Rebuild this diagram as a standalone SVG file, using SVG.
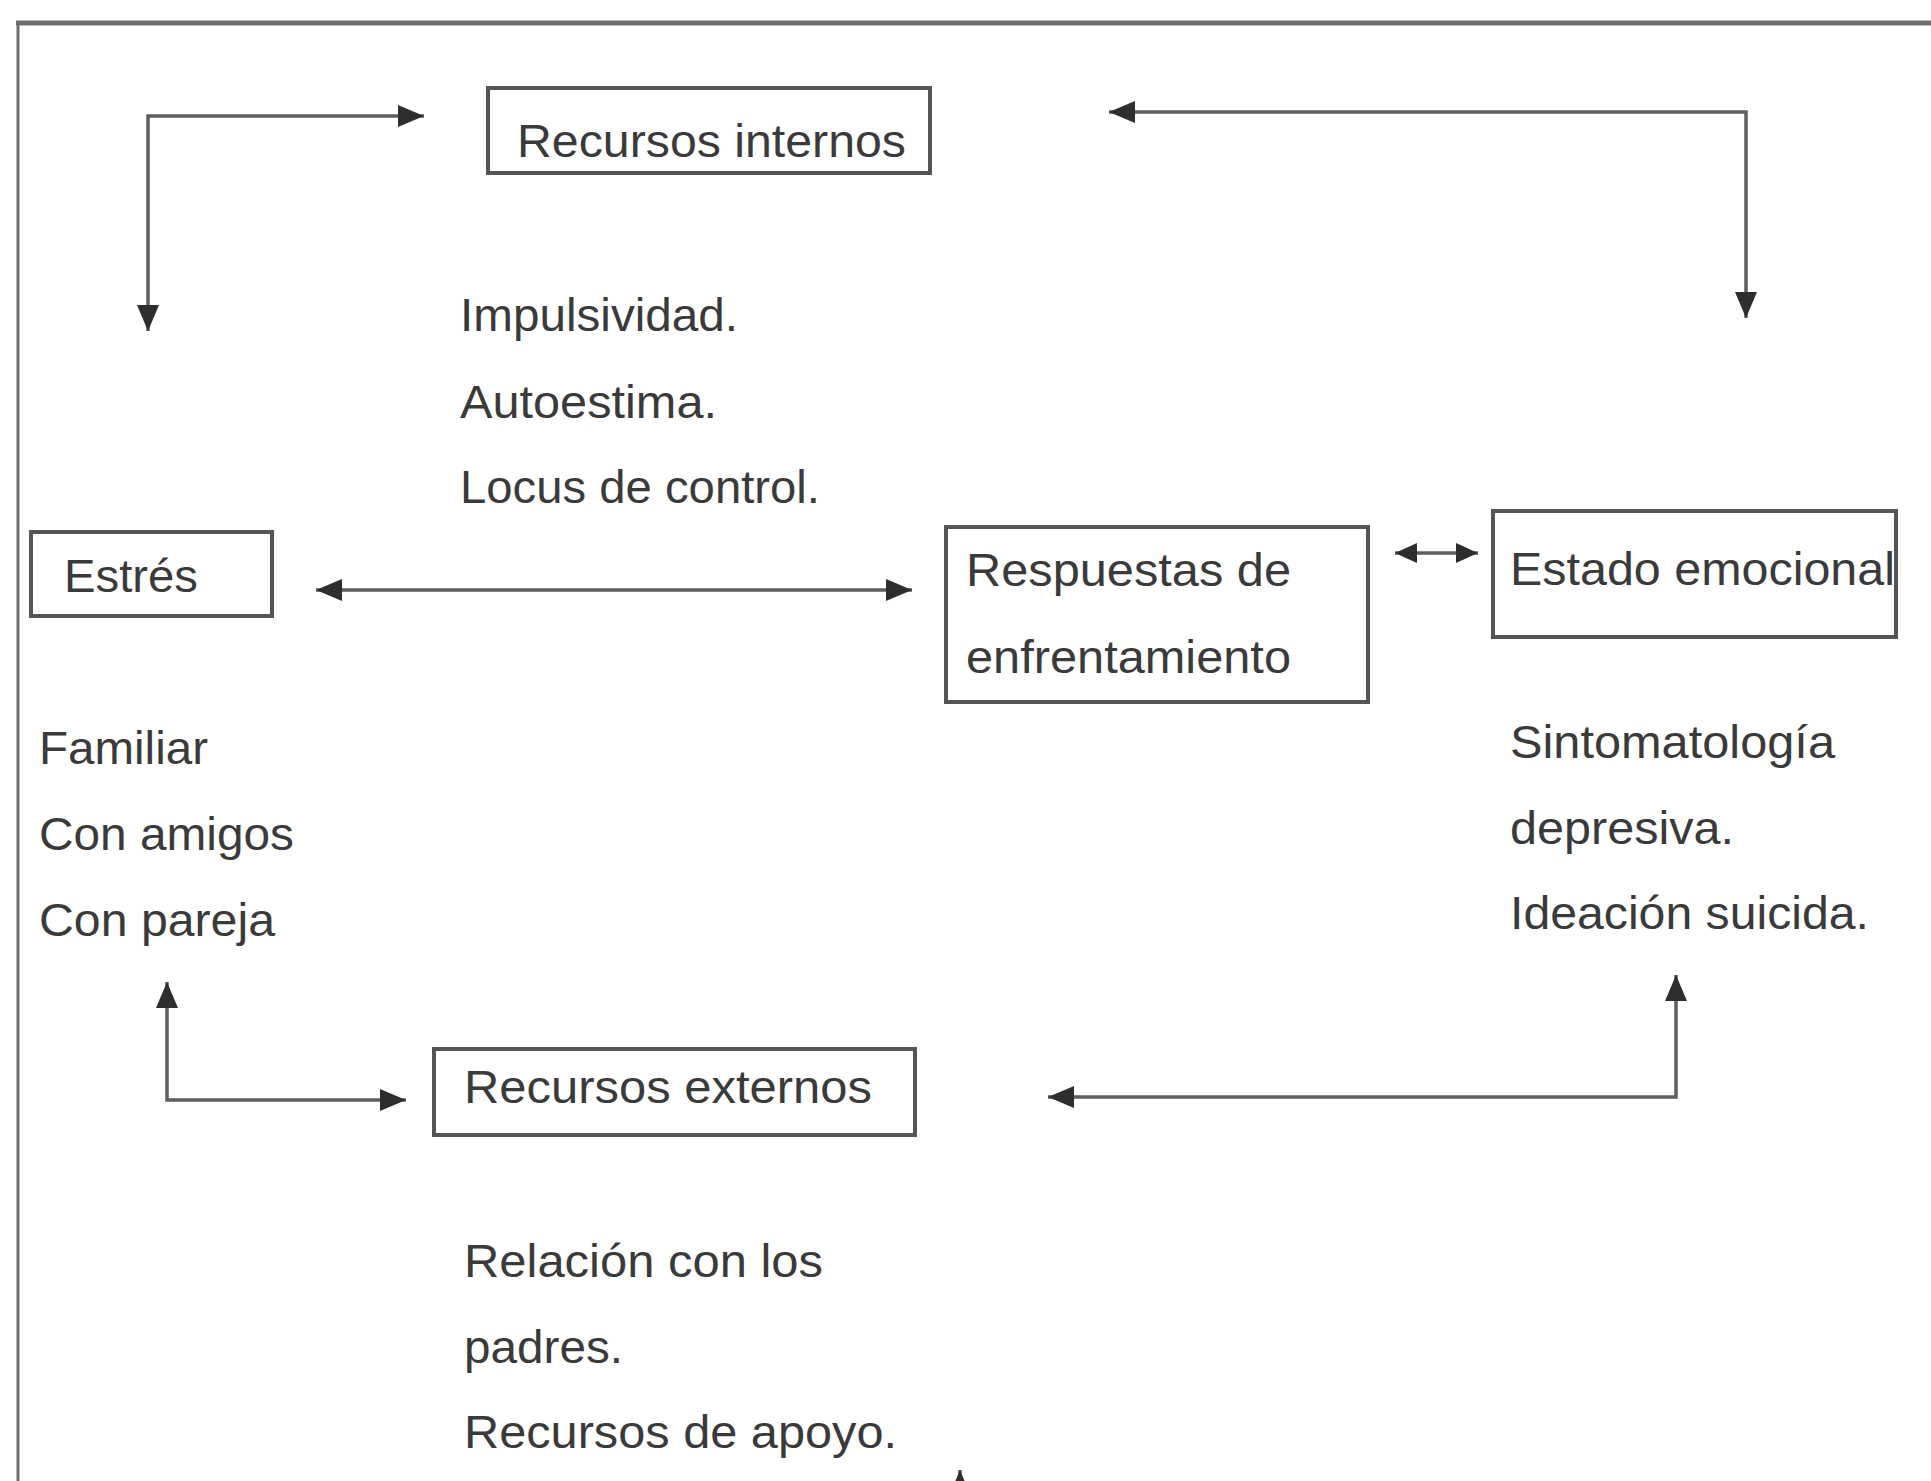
<svg xmlns="http://www.w3.org/2000/svg" width="1931" height="1481" viewBox="0 0 1931 1481">
  <defs>
    <marker id="ah" markerUnits="userSpaceOnUse" markerWidth="28" markerHeight="24" refX="26" refY="11" orient="auto-start-reverse">
      <path d="M0,0 L26,11 L0,22 z" fill="#2e2e2e"/>
    </marker>
    <marker id="ahs" markerUnits="userSpaceOnUse" markerWidth="24" markerHeight="22" refX="22" refY="10" orient="auto-start-reverse">
      <path d="M0,0 L22,10 L0,20 z" fill="#2e2e2e"/>
    </marker>
    <style>
      .box { fill: #ffffff; stroke: #555555; stroke-width: 4; }
      .t { font-family: "Liberation Sans", Arial, sans-serif; font-size: 46px; fill: #3a3a3a; }
      .c { fill: none; stroke: #5e5e5e; stroke-width: 3.5; }
      .frame { fill: none; stroke: #6e6e6e; }
    </style>
  </defs>
  <rect x="0" y="0" width="1931" height="1481" fill="#ffffff"/>
  <g id="frame">
    <line class="frame" x1="16" y1="23" x2="1931" y2="23" stroke-width="5"/>
    <line class="frame" x1="18" y1="21" x2="18" y2="1481" stroke-width="3"/>
  </g>
  <g id="connectors">
    <path class="c" d="M148 331 V116 H424" marker-start="url(#ah)" marker-end="url(#ah)"/>
    <path class="c" d="M1109 112 H1746 V318" marker-start="url(#ah)" marker-end="url(#ah)"/>
    <path class="c" d="M316 590 H912" marker-start="url(#ah)" marker-end="url(#ah)"/>
    <path class="c" d="M1395 553 H1478" marker-start="url(#ahs)" marker-end="url(#ahs)"/>
    <path class="c" d="M167 982 V1100 H406" marker-start="url(#ah)" marker-end="url(#ah)"/>
    <path class="c" d="M1048 1097 H1676 V975" marker-start="url(#ah)" marker-end="url(#ah)"/>
    <path class="c" d="M960 1520 V1470" marker-end="url(#ah)"/>
  </g>
  <g id="recursos-internos">
    <rect class="box" x="488" y="88" width="442" height="85"/>
    <text class="t" x="517" y="157" textLength="389" lengthAdjust="spacingAndGlyphs">Recursos internos</text>
  </g>
  <g id="recursos-internos-items">
    <text class="t" x="460" y="331" textLength="278" lengthAdjust="spacingAndGlyphs">Impulsividad.</text>
    <text class="t" x="460" y="418" textLength="257" lengthAdjust="spacingAndGlyphs">Autoestima.</text>
    <text class="t" x="460" y="503" textLength="360" lengthAdjust="spacingAndGlyphs">Locus de control.</text>
  </g>
  <g id="estres">
    <rect class="box" x="31" y="532" width="241" height="84"/>
    <text class="t" x="64" y="592" textLength="134" lengthAdjust="spacingAndGlyphs">Estrés</text>
  </g>
  <g id="estres-items">
    <text class="t" x="39" y="764" textLength="169" lengthAdjust="spacingAndGlyphs">Familiar</text>
    <text class="t" x="39" y="850" textLength="255" lengthAdjust="spacingAndGlyphs">Con amigos</text>
    <text class="t" x="39" y="936" textLength="236" lengthAdjust="spacingAndGlyphs">Con pareja</text>
  </g>
  <g id="respuestas">
    <rect class="box" x="946" y="527" width="422" height="175"/>
    <text class="t" x="966" y="586" textLength="325" lengthAdjust="spacingAndGlyphs">Respuestas de</text>
    <text class="t" x="966" y="673" textLength="325" lengthAdjust="spacingAndGlyphs">enfrentamiento</text>
  </g>
  <g id="estado-emocional">
    <rect class="box" x="1493" y="511" width="403" height="126"/>
    <text class="t" x="1510" y="585" textLength="385" lengthAdjust="spacingAndGlyphs">Estado emocional</text>
  </g>
  <g id="estado-items">
    <text class="t" x="1510" y="758" textLength="325" lengthAdjust="spacingAndGlyphs">Sintomatología</text>
    <text class="t" x="1510" y="844" textLength="224" lengthAdjust="spacingAndGlyphs">depresiva.</text>
    <text class="t" x="1510" y="929" textLength="359" lengthAdjust="spacingAndGlyphs">Ideación suicida.</text>
  </g>
  <g id="recursos-externos">
    <rect class="box" x="434" y="1049" width="481" height="86"/>
    <text class="t" x="464" y="1103" textLength="408" lengthAdjust="spacingAndGlyphs">Recursos externos</text>
  </g>
  <g id="recursos-externos-items">
    <text class="t" x="464" y="1277" textLength="359" lengthAdjust="spacingAndGlyphs">Relación con los</text>
    <text class="t" x="464" y="1363" textLength="159" lengthAdjust="spacingAndGlyphs">padres.</text>
    <text class="t" x="464" y="1448" textLength="433" lengthAdjust="spacingAndGlyphs">Recursos de apoyo.</text>
  </g>
</svg>
